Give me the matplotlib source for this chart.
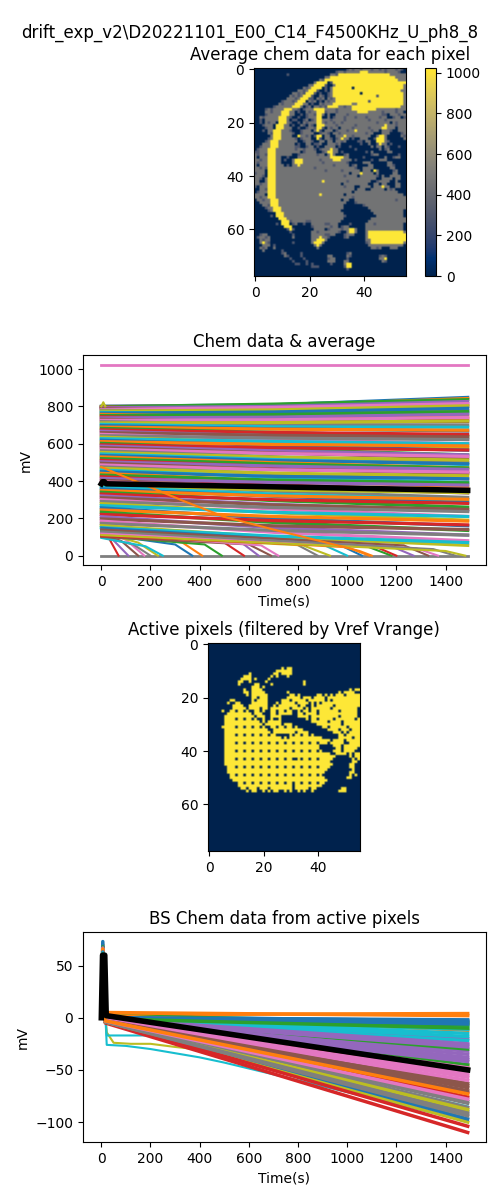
import numpy as np
import matplotlib
matplotlib.use("Agg")
import matplotlib.pyplot as plt

run_name = r"drift_exp_v2\D20221101_E00_C14_F4500KHz_U_ph8_8"

# average chem image, 78 x 56 pixels: '.'=0, 'd'=dark grey, 'g'=grey, 'Y'=saturated
chem_levels = {'.': 0, 'd': 300, 'g': 465, 'Y': 1023}
chem_rows = [
    '.'*34 + 'dgdggdgggdggdgdgggdgd.',
    '.'*30 + 'dggdgggggYYYggggggdggggd..',
    '.'*12 + 'd' + '.'*15 + 'ggd' + 'Y'*19 + 'gggggg',
    '.'*26 + 'gg' + 'Y'*24 + 'gggg',
    '.'*24 + 'gd' + 'Y'*27 + 'ggg',
    '.'*22 + 'gYYYY.d' + 'Y'*27,
    '.'*20 + 'ggYYYYd..g' + 'Y'*25 + 'g',
    '.'*18 + 'gdgYYYY.d.gYYYYYYY.' + 'Y'*18 + 'g',
    '.'*16 + 'ggdgYYYd..d.g' + 'Y'*25 + 'gg',
    '.'*14 + 'ggdgdYYYd.d..dg' + 'Y'*10 + '.' + 'Y'*15 + 'g',
    '.'*13 + 'gdgdgYYYd..gd.dg' + 'Y'*16 + 'd' + 'Y'*9 + 'g',
    '.'*12 + 'gggdgYYYdd.gdg.gdg' + 'Y'*25 + 'g',
    '.'*10 + 'dgggdgYYY.gdg.d.gdgg' + 'Y'*12 + 'd' + 'Y'*12 + 'g',
    '.'*9 + 'gdggggYYYgg.d..gdggg' + 'Y'*7 + 'gg' + 'Y'*17 + 'g',
    '.'*7 + 'dggggggYYYg.dg.ggdgd' + 'YYYY' + 'ggdgg' + 'Y'*18 + 'gg',
    '.'*4 + 'dgdggggYYY' + 'ggd.dggg' + 'YYYYg' + 'gggdggggg' + 'Y'*9 + 'gggggggdggg',
    '.'*4 + 'ggdgggYYY' + 'gg.d..gdg' + 'gYYYd' + 'gggdgggggggY' + 'YYYgg' + 'gggdggggdgg.',
    '.'*4 + 'dgggggYYY' + 'gg..d.dgg' + 'dYYg.' + 'g..ggggdggggg' + 'gggggg' + 'gdd.gggdgg',
    '..' + 'gdgggggYYY' + 'gd..d..dgg' + 'gYY..' + 'g.dgggdgggdgg' + 'gdggggdg' + 'g..dgg.d',
    '..' + 'd.gggg' + 'gYYY' + 'g.dd..d' + 'g.' + 'dgYYgg' + 'gdggggdggggggg' + 'gdgggggdggggggg',
    '..d.gdgg.' + 'YYY' + 'gd..d.gdg' + 'ggYYgd' + 'ggdggdgggggggg' + 'ggggdgggg.gdggg',
    '...dggg.' + 'YYY' + 'gg.d..gd.g' + 'd.YYYg' + 'gggdggggggdggg' + 'gggggggYgggdggg',
    '....dgg.' + 'YYY' + 'ggg..d..dg' + 'gdYYd.' + 'gdgg.ggggdgggg' + 'gdggggYYggg.ggg',
    '...d.gg' + 'YYY' + 'gggd...dggg' + '.gYd.g' + 'gg.dgggdggYggg' + 'ggdgg.gggd..ggg',
    '.....gd' + 'YYY' + 'ggggd..dggg' + 'g..dgg' + 'd.ggdggggggggg' + 'dgg...ggg....dg',
    '......g' + 'YYY' + 'gggg..Yggdg' + '.dYY.g' + 'g..gggYggdgggg' + 'gg..gYYg.....gd',
    '.....dg' + 'YYY' + 'gggggd.dggg' + '..Yd.g' + 'gd.dgYgg.d..gg' + 'g..dYYYg......g',
    '....dg' + 'YYY' + 'ggggggg..dgg' + 'd..gg.' + 'gg.ggdg....dd.' + 'gg..YYYgd......',
    '...ggg' + 'YYY' + 'gggggg.d..gg' + '.ddg..' + 'gggdg.......d.' + '.g..dYgg.d.....',
    '..dggg' + 'YYY' + 'ggggggdd..dg' + 'g.d..g' + 'ggg.d...d.....' + '..g.gg.gd...d..',
    '.dggg' + 'YYY' + 'gggggggdggdgg' + 'gd.dgg' + 'gYgg......d...' + '.....g.dg......',
    'ddggg' + 'YYY' + 'ggggggggg.dgg' + 'gg..dg' + 'YYgg.d........' + 'd.g.....gg.....',
    'gdggd' + 'YYY' + 'gggggg..dgggg' + 'ggdgg.' + 'gYg...dg......' + '..dgg.......d..',
    'g.ggg' + 'YYY' + 'gg..d...ggggg' + 'gggggg' + 'gYYYYYgg.....d' + '.......g..dgg..',
    'ggdgg' + 'YYY' + 'gg.d..gYYYggg' + 'gggdgg' + 'ggYYYgggg.d...' + '..d..ggg.......',
    'gdggg' + 'YYY' + 'gg....gYYYggg' + 'ggggdg' + 'gggggggd.....g' + 'gg......gg.....',
    'g.ggg' + 'YYY' + 'ggg.d.ggYgggg' + 'gggggg' + 'ggdggggg.dg...' + '.gg.....ggd....',
    'ggdgd' + 'YYY' + 'g'*13 + 'gdgggg' + 'ggggggggggd..g' + 'ggg......gg....',
    'gggg.' + 'YYY' + 'g'*13 + 'gggggd' + 'gggggdgggggg.g' + 'gg.Yg.....dg...',
    'dggg.' + 'YYY' + 'g'*13 + 'g'*6 + 'gggggggg.gggYg' + 'ggg.g.....gg...',
    'gggd.' + 'YYY' + 'g'*13 + 'g'*6 + 'ggggggdgggg.gg' + 'ggggd.g..gggg..',
    'ggd.g' + 'YYY' + 'g'*13 + 'g'*6 + 'g'*14 + 'gggg..gggg.gg..',
    'gg..g' + 'YYY' + 'g'*13 + 'ggggYg' + 'gggggggdgggggg' + 'gg..dgggg..g...',
    'ggdgg' + 'YYY' + 'g'*13 + 'g'*6 + 'ggggg.gggggggg' + 'g..gg.gg...gg..',
    'd.ggg' + 'YYY' + 'g'*13 + 'g'*6 + 'ggggggdggg..gg' + 'gg.gggYgg..gg..',
    '..ggd' + 'YYY' + 'g'*13 + 'g'*6 + 'gggggggggg.ggg' + '..ggggg.gdg....',
    '.dggg' + 'YYY' + 'g'*13 + 'g'*6 + 'ggggggggg.gggg' + 'g'*12 + '...',
    'gggg.' + 'YYY' + 'g'*13 + 'gggYgg' + 'gggggg.ggggggg' + 'g'*14 + '.',
    'ggdgg' + 'YYY' + 'g'*13 + 'g'*6 + 'gggggggggdgggg' + 'g'*15,
    '.ggdgg' + 'YYY' + 'g'*12 + 'g'*6 + 'ggggg.gg..gggg' + 'gggggggggggdggg',
    '..gggg' + 'YYY' + 'g'*12 + 'g'*6 + 'ggggggg...dggg' + 'g'*15,
    '...ggd' + 'YYY' + 'g'*12 + 'g'*6 + 'gggggg.......d' + 'g'*15,
    '....dgg' + 'YYY' + 'g'*11 + 'g'*6 + 'gggggg........' + '.' + 'g'*14,
    '.....dg' + 'YYY' + 'g'*11 + 'g'*6 + 'ggggg.........' + '..' + 'g'*12 + '.',
    '.'*8 + 'YYY' + 'g'*10 + 'g'*6 + 'gggggg........' + '...' + 'g'*11 + '.',
    '......d.' + 'YYY' + 'g'*10 + 'g'*6 + 'ggggggd.......' + '....' + 'g'*10 + '.',
    '.'*9 + 'YYY' + 'g'*9 + 'g'*6 + 'gggggg........' + '..' + 'g'*13,
    '.'*10 + 'YYY' + 'dgggggdd' + 'g'*6 + 'ggggg.........' + '.' + 'g'*14,
    '........d.' + 'YYY' + '.dg..d..' + 'gggggd' + 'dggg....d.....' + 'gggdgggggggggg.',
    '.'*11 + 'YYY' + '.......' + 'dggggg' + 'gdgg.dgg......' + 'g'*14 + '.',
    '.'*12 + 'dYd' + '......' + '.gggg.' + 'dggggdggYYg...' + 'g'*14 + '.',
    '.'*13 + 'd' + '.'*7 + 'ggdggg' + 'ggggd..gYYg...' + 'g' + 'Y'*13 + 'g',
    '..dgg' + '.'*9 + 'd' + '.'*6 + 'gggggd' + 'dgg...dggg....' + 'g' + 'Y'*14,
    '.dggdg' + '.'*8 + 'g' + '.'*6 + 'gggYgg' + 'd.....dg......' + 'g' + 'Y'*14,
    '..gdgg' + '.'*15 + 'ggYYYg' + '.'*14 + 'gg' + 'Y'*13,
    '..gYgd' + '.'*8 + 'd' + '.'*6 + 'gYYYg.' + '.'*14 + 'dg' + 'Y'*12 + 'g',
    '...ggg.d' + '.'*13 + '.gYg..' + '.'*14 + '.' + 'g'*13 + '.',
    '..gdg..g' + '.'*13 + '..g...' + '.'*14 + '..ggdg...ggg...',
    '...g......d' + '.'*10 + '.'*6 + '.'*14 + '.'*15,
    '.'*10 + 'dg' + '.'*5 + 'd' + '...' + '.'*6 + '.......dg.....' + '.'*15,
    '.'*11 + 'gd' + '....' + 'd' + '...' + '.'*6 + 'gg.....gd.....' + '.....dgd.......',
    '.'*13 + 'd' + '....' + 'd' + '..' + '.'*6 + 'dgg....d......' + '.....ggY.......',
    '.'*14 + 'd' + '....' + 'd' + '.' + '.'*6 + 'ggg...gg......' + '......gd.......',
    '.'*15 + 'dd..d.' + 'd.....' + '.d....gYY.....' + '.'*15,
    '.'*21 + 'ddd...' + '......dYY.....' + '.'*15,
    '.'*21 + '.'*6 + '.......d......' + '.'*15,
    '.'*56,
    '.'*56,
]

# active pixel mask, '#' = active
mask_rows = ['.'*56] * 9 + [
    '.'*27 + '#.##' + '.'*25,
    '.'*25 + '#'*6 + '.'*25,
    '.'*15 + '#' + '.'*8 + '##.####' + '.'*25,
    '.'*13 + '###' + '.'*7 + '#' + '.#...#' + '.'*26,
    '.'*12 + '####.#' + '.'*4 + '#' + '.'*33,
    '.'*11 + '##..#' + '.'*5 + '#' + '.'*13 + '#' + '.'*20,
    '.'*11 + '#' + '.'*5 + '##' + '.'*4 + '#' + '.'*11 + '#' + '.'*20,
    '.'*16 + '###' + '.#' + '.'*35,
    '.'*13 + '#' + '..' + '####' + '.'*31 + '.#.##',
    '.'*13 + '##' + '.' + '#####' + '.'*8 + '#' + '.'*18 + '#.####..',
    '.'*14 + '#' + '.' + '#'*6 + '.'*8 + '##.#' + '.'*6 + '##.#.' + '#.###.#####',
    '.'*16 + '##.###' + '.'*7 + '#'*5 + '.' + '###.####' + '.' + '#'*12,
    '.'*8 + '##' + '.'*6 + '#.####' + '.'*5 + '###.###' + '##.#####' + '#.#.##' + '#'*8,
    '.'*7 + '#' + '..' + '##' + '.'*4 + '#'*6 + '...' + '#.#' + '####.####' + '.#.#.###' + '#'*11,
    '.'*9 + '####' + '..' + '#'*7 + '..' + '#.####' + '###.##' + '..' + '#.#####' + '#.#########',
    '.'*9 + '#'*5 + '.' + '####.##' + '.#' + '#'*6 + '.####.' + '#.#' + '######' + '.#########.',
    '.'*5 + '#' + '..' + '#'*7 + '.#####' + '..' + '#'*7 + '##.###' + '#.#' + '######' + '###.######.',
    '.'*7 + '#'*9 + '.###' + '...' + '##.####' + '#..##.' + '###' + '#.####' + '#'*10 + '.',
    '.'*6 + '#'*11 + '.###' + '..' + '####...' + '...####.##########.######.',
    '.'*6 + '#'*12 + '.##' + '..' + '#.##.#.' + '......' + '#'*10 + '.#######.#',
    '.'*6 + '#'*13 + '.#' + '.#' + '####...' + '........' + '######.###' + '#.######',
    '.'*6 + '#'*14 + '.##' + '####.##' + '#.........' + '#'*7 + '##.######',
    '.'*5 + '#'*16 + '.##' + '#'*6 + '###.........' + '##.#####' + '#.####',
    '.'*6 + '#'*16 + '..' + '#'*6 + '#####.........' + '####.##' + '#.###',
    '.'*6 + '#'*17 + '.' + '#'*6 + '##.####.........' + '###.#.####',
    '.'*6 + '#'*20 + '....' + '#########.........' + '##.#####',
    '.'*6 + '#'*21 + '.#.' + '#'*12 + '......' + '#####.##',
    '.'*6 + '#'*24 + '#'*15 + '.####.#####',
    '.'*6 + '#'*24 + '#'*14 + '.#####..####',
    '.'*6 + '#'*24 + '#'*11 + '.....' + '###.######',
    '.'*6 + '#'*24 + '#'*11 + '......' + '##.#####.',
    '.'*6 + '#'*24 + '#'*12 + '....' + '###.####..',
    '.'*6 + '#'*24 + '#'*15 + '..' + '####.#.##',
    '.'*6 + '#'*24 + '#'*17 + '.....' + '#.##',
    '.'*6 + '#'*24 + '##.' + '#'*13 + '.......' + '#.#',
    '.'*6 + '#'*24 + '#'*15 + '........' + '##.',
    '.'*6 + '#'*24 + '####' + '#'*7 + '####' + '#......##..',
    '.'*7 + '#'*23 + '####' + '#'*7 + '####' + '.......##..',
    '.'*7 + '#'*23 + '####' + '#'*7 + '###.' + '........#..',
    '.'*7 + '#'*23 + '####' + '#'*7 + '##..' + '.......##..',
    '.'*8 + '#'*22 + '####' + '#'*7 + '#...' + '.......#.#.',
    '.'*8 + '#'*22 + '####' + '#'*7 + '##..' + '......##...',
    '.'*9 + '#'*21 + '####' + '#'*7 + '###.' + '.'*11,
    '.'*10 + '#'*20 + '####' + '#'*7 + '##..' + '.'*11,
    '.'*11 + '#'*19 + '#.##' + '#'*7 + '#...' + '.'*11,
    '.'*12 + '##.###.###.#######' + '#.##' + '###.##.' + '....' + '....##.....',
    '.'*14 + '#.##..#.#.##..#.' + '#..#' + '.#..#..' + '....' + '...###.....',
] + ['.'*56] * 22
# dark holes of the sensor grid inside the active area
hole_rows = [25, 28, 31, 34, 37, 40, 43, 46, 49, 52]
hole_cols = [10, 13, 16, 19, 22, 25, 28, 31, 34, 37, 40]

# chem traces: value at t = 0, 700, 1490 s
chem_t = [0, 700, 1490]
chem_start = [801, 799, 797, 795, 792, 788, 783, 779, 774, 768, 763, 757, 751, 744, 738, 731, 725, 718, 711, 704,
              697, 689, 682, 674, 667, 659, 650, 643, 635, 627, 619, 611, 602, 594, 587, 579, 570, 562, 553, 545,
              537, 529, 520, 511, 503, 495, 486, 476, 468, 459, 450, 441, 432, 423, 414, 404, 395, 386, 377, 368,
              358, 349, 340, 330, 320, 311, 300, 290, 279, 268, 256, 245, 233, 221, 209, 197, 185, 173, 161, 150]
chem_mid = [808, 803, 812, 790, 800, 782, 794, 770, 781, 758, 770, 742, 756, 730, 742, 716, 728, 702, 713, 690,
            680, 678, 660, 660, 642, 645, 622, 630, 605, 612, 590, 596, 570, 578, 562, 550, 548, 530, 528, 515,
            510, 498, 492, 478, 480, 462, 460, 440, 442, 420, 425, 400, 405, 380, 392, 365, 372, 345, 352, 330,
            318, 320, 295, 300, 275, 272, 250, 258, 230, 232, 200, 210, 178, 188, 150, 160, 125, 135, 100, 105]
chem_end = [848, 842, 836, 812, 826, 800, 815, 778, 803, 764, 790, 748, 772, 733, 758, 718, 740, 700, 722, 688,
            668, 672, 640, 650, 622, 636, 600, 622, 580, 600, 565, 588, 540, 566, 540, 522, 532, 500, 512, 488,
            492, 470, 470, 448, 462, 440, 448, 410, 428, 392, 412, 370, 390, 348, 378, 336, 356, 312, 338, 300,
            285, 302, 260, 280, 240, 248, 210, 236, 190, 210, 160, 185, 135, 165, 110, 140, 80, 110, 55, 70]

# low pixels that fall to zero: start value, knee time, knee value, time at zero
drop_v0 = [140, 120, 110, 130, 100, 125, 95, 115, 135, 105, 125, 145, 100, 120, 140, 110, 130, 150, 115, 135, 105, 125, 140, 120, 130, 110]
drop_tk = [20, 40, 80, 100, 130, 150, 180, 300, 330, 420, 500, 560, 600, 650, 780, 820, 900, 950, 1000, 1080, 1120, 1180, 1230, 1280, 1350, 1400]
drop_vk = [120, 95, 80, 85, 60, 70, 50, 60, 70, 60, 70, 80, 60, 55, 70, 55, 60, 70, 45, 50, 45, 50, 55, 40, 35, 25]
drop_tz = [70, 110, 150, 175, 200, 230, 250, 370, 410, 490, 580, 640, 690, 720, 880, 930, 1000, 1060, 1090, 1180, 1200, 1270, 1330, 1370, 1440, 1480]

long_t = [0, 340, 500, 700, 900, 1050, 1100]
long_v = [475, 290, 208, 140, 75, 25, 0]
sat_level = 1023
avg_t = [0, 5, 12, 20, 1490]
avg_v = [385, 396, 396, 385, 350]

# baseline-subtracted traces: value at peak, just after the pulse and at the end
bs_t = [0, 6, 16, 1490]
bs_peak = [70, 73, 68, 63, 67, 66, 62, 64, 60, 65, 64, 61, 59, 62, 64, 63, 60, 58, 61, 57,
           66, 62, 57, 59, 60, 55, 58, 61, 55, 59, 56, 57, 58, 60, 55, 56,
           63, 61, 60, 62, 59, 58, 60, 57, 61, 60, 58, 57, 56, 55, 58, 57]
bs_after = [3, 1, 2, 0, 0, -1, -2, 0, -2, 2, 0, 0, -1, -1, -1, -2, -2, -2, -3, -3,
            5, -1, -2, -2, -3, -4, -3, -3, -4, -4, -2, -4, -5, -2, -4, -4,
            0, 0, -1, -1, -1, -2, -2, -2, -1, -2, -2, -3, -3, -4, -3, -3]
bs_end = [4, -3, -5, -8, -20, -53, -63, -50, -80, -12, -4, -7, -11, -26, -57, -67, -72, -86, -32, -46,
          2, -30, -45, -38, -60, -90, -70, -76, -100, -42, -22, -104, -110, -97, -94, -88,
          -2, -6, -15, -18, -25, -35, -28, -40, -10, -48, -55, -65, -82, -92, -78, -73]
bs_color = ['C1', 'C0', 'C2', 'C9', 'C4', 'C6', 'C5', 'C3', 'C7', 'C1', 'C0', 'C2', 'C9', 'C4', 'C6', 'C5', 'C3', 'C7', 'C4', 'C8',
            'C1', 'C2', 'C2', 'C4', 'C6', 'C7', 'C5', 'C3', 'C8', 'C4', 'C9', 'C3', 'C3', 'C0', 'C7', 'C8',
            'C0', 'C0', 'C9', 'C9', 'C4', 'C4', 'C4', 'C4', 'C2', 'C6', 'C6', 'C5', 'C7', 'C7', 'C6', 'C1']
step_cyan_t = [0, 6, 16, 22, 200, 260, 1490]
step_cyan_v = [0, 60, 4, -17, -17, -19, -85]
step_olive_t = [0, 6, 16, 22, 50, 120, 200, 300, 380, 1490]
step_olive_v = [0, 57, 4, -14, -24, -25, -25, -28, -30, -92]
step_cyan2_t = [0, 6, 16, 22, 100, 200, 300, 400, 500, 1490]
step_cyan2_v = [0, 59, 4, -26, -27, -30, -34, -38, -43, -99]
bs_avg_t = [0, 5, 14, 20, 1490]
bs_avg_v = [0, 60, 60, 2, -50]

chem_img = np.array([[chem_levels[ch] for ch in r.ljust(56, '.')[:56]] for r in chem_rows])
mask = np.array([[1 if ch == '#' else 0 for ch in r.ljust(56, '.')[:56]] for r in mask_rows])
mask[np.ix_(hole_rows, hole_cols)] = 0

fig = plt.figure(figsize=(5, 12), dpi=100)
fig.suptitle(run_name)

ax1 = fig.add_axes([0.508, 0.770, 0.304, 0.1733])
im = ax1.imshow(chem_img, cmap='cividis', vmin=0, vmax=1023, aspect='auto', interpolation='hanning')
ax1.set_title('Average chem data for each pixel')
cax = fig.add_axes([0.85, 0.770, 0.022, 0.1733])
fig.colorbar(im, cax=cax)

ax2 = fig.add_axes([0.166, 0.529, 0.806, 0.175])
ax2.plot([0, 1490], [0, 0], color='C7', lw=2)
for i in range(len(chem_start)):
    ax2.plot(chem_t, [chem_start[i], chem_mid[i], chem_end[i]], color='C%d' % (i % 10), lw=2.3)
for i in range(len(drop_v0)):
    ax2.plot([0, drop_tk[i], drop_tz[i]], [drop_v0[i], drop_vk[i], 0], color='C%d' % ((i + 3) % 10), lw=1.5)
ax2.plot(long_t, long_v, color='C1', lw=1.5)
ax2.plot([0, 8, 16], [800, 822, 800], color='C8')
ax2.plot([0, 1490], [sat_level, sat_level], color='C6', lw=2)
ax2.plot(avg_t, avg_v, color='black', lw=4)
ax2.set_title('Chem data & average')
ax2.set_xlabel('Time(s)')
ax2.set_ylabel('mV')

ax3 = fig.add_axes([0.416, 0.2908, 0.304, 0.1733])
ax3.imshow(mask, cmap='cividis', aspect='auto', interpolation='hanning')
ax3.set_title('Active pixels (filtered by Vref Vrange)')

ax4 = fig.add_axes([0.166, 0.0483, 0.806, 0.175])
ax4.plot(step_cyan2_t, step_cyan2_v, color='C9', lw=1.5)
ax4.plot(step_olive_t, step_olive_v, color='C8', lw=1.5)
ax4.plot(step_cyan_t, step_cyan_v, color='C9', lw=1.5)
for i in range(len(bs_end)):
    ax4.plot(bs_t, [0, bs_peak[i], bs_after[i], bs_end[i]], color=bs_color[i], lw=2.5)
ax4.plot(bs_avg_t, bs_avg_v, color='black', lw=4)
ax4.set_title('BS Chem data from active pixels')
ax4.set_xlabel('Time(s)')
ax4.set_ylabel('mV')

fig.savefig('out.png', dpi=100)
